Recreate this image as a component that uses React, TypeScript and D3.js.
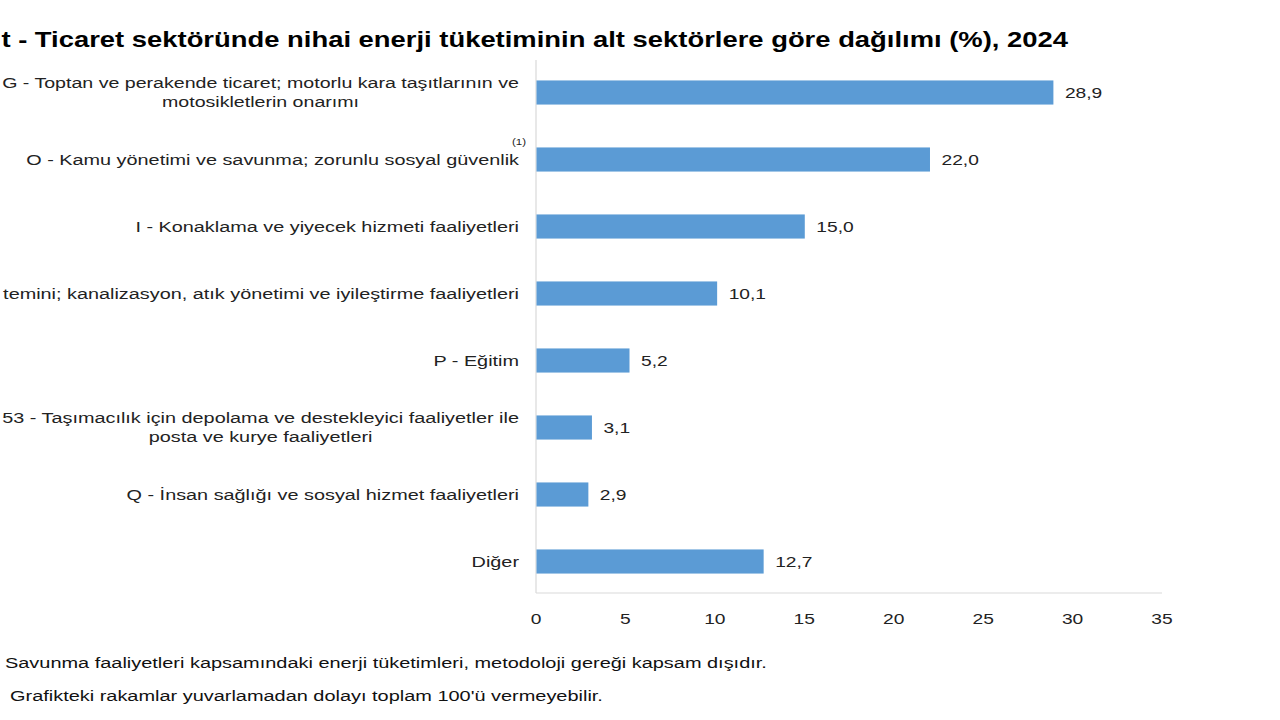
import React, { useEffect, useRef } from "react";
import * as d3 from "d3";

// Label lines per category, as much as the cropped source shows (wrapped like the source)
const categories: string[][] = [
    ["G - Toptan ve perakende ticaret; motorlu kara taşıtlarının ve", "motosikletlerin onarımı"],
    ["O - Kamu yönetimi ve savunma; zorunlu sosyal güvenlik"],
    ["I - Konaklama ve yiyecek hizmeti faaliyetleri"],
    ["temini; kanalizasyon, atık yönetimi ve iyileştirme faaliyetleri "],
    ["P - Eğitim"],
    ["53 - Taşımacılık için depolama ve destekleyici faaliyetler ile", "posta ve kurye faaliyetleri"],
    ["Q - İnsan sağlığı ve sosyal hizmet faaliyetleri"],
    ["Diğer"],
];
const values: number[] = [28.9, 22.0, 15.0, 10.1, 5.2, 3.1, 2.9, 12.7];
const xTicks: number[] = [0, 5, 10, 15, 20, 25, 30, 35];

const title = "t - Ticaret sektöründe nihai enerji tüketiminin alt sektörlere göre dağılımı (%), 2024";
const notes: string[] = [
    "Savunma faaliyetleri kapsamındaki enerji tüketimleri, metodoloji gereği kapsam dışıdır.",
    "Grafikteki rakamlar yuvarlamadan dolayı toplam 100'ü vermeyebilir.",
];

const FONT = "'Liberation Sans', Arial, sans-serif";
// the source picture is stretched sideways, so text is widened to match
const SX = 1.28;
const SX_NOTE = 1.33;

type G = d3.Selection<SVGGElement, unknown, null, undefined>;

const addText = (parent: G, x: number, y: number, str: string, anchor = "start", sx = SX) => {
    return parent.append("text")
        .attr("transform", `translate(${x},${y}) scale(${sx},1)`)
        .attr("dy", "0.35em")
        .attr("text-anchor", anchor)
        .text(str);
};

const naturalWidth = (parent: G, str: string): number => {
    const t = parent.append("text").text(str);
    const w = (t.node() as SVGTextElement).getComputedTextLength();
    t.remove();
    return w;
};

export default function App(): React.ReactElement {
    const svgRef = useRef<SVGSVGElement>(null);

    useEffect(() => {
        if (!svgRef.current) {
            return;
        }
        const svg = d3.select(svgRef.current);
        svg.selectAll("*").remove();
        const root = svg.append("g") as unknown as G;

        const x = d3.scaleLinear().domain([0, 35]).range([536, 1162]);
        const y = d3.scaleBand<number>()
            .domain(d3.range(categories.length))
            .range([59, 595])
            .paddingInner(0.64)
            .paddingOuter(0.32);

        // Title: spans from the left edge to x = 1068
        const titleRight = 1068;
        const titleG = root.append("g")
            .attr("font-family", FONT)
            .attr("font-weight", "bold")
            .attr("font-size", 22.5)
            .attr("fill", "#000");
        const titleSx = (titleRight - 1) / naturalWidth(titleG, title);
        addText(titleG, titleRight, 39, title, "end", titleSx);

        // Axes lines
        root.append("line")
            .attr("x1", x(0)).attr("x2", x(0))
            .attr("y1", 60).attr("y2", 593)
            .attr("stroke", "#d9d9d9").attr("stroke-width", 1.2);
        root.append("line")
            .attr("x1", x(0)).attr("x2", x(35))
            .attr("y1", 593).attr("y2", 593)
            .attr("stroke", "#d9d9d9").attr("stroke-width", 1.2);

        // Bars
        root.append("g")
            .selectAll("rect")
            .data(values)
            .join("rect")
            .attr("x", x(0) + 0.5)
            .attr("y", (_d, i) => y(i) as number)
            .attr("width", (d) => x(d) - x(0))
            .attr("height", y.bandwidth())
            .attr("fill", "#5b9bd5");

        // Value labels
        const valG = root.append("g")
            .attr("font-family", FONT)
            .attr("font-size", 15)
            .attr("fill", "#222");
        values.forEach((d, i) => {
            addText(valG, x(d) + 12, (y(i) as number) + y.bandwidth() / 2,
                d3.format(".1f")(d).replace(".", ","));
        });

        // Category labels
        const labelRight = 519;
        const lineH = 19;
        const labels = root.append("g")
            .attr("font-family", FONT)
            .attr("font-size", 15.5)
            .attr("fill", "#222");
        categories.forEach((lines, i) => {
            const cy = (y(i) as number) + y.bandwidth() / 2;
            const g = labels.append("g");
            const natural = d3.max(lines, (line) => naturalWidth(g, line)) ?? 0;
            const sx = Math.min(SX, (labelRight - 2) / natural);
            if (lines.length === 1) {
                addText(g, labelRight, cy, lines[0], "end", sx);
            } else {
                const maxW = natural * sx;
                lines.forEach((line, j) => {
                    addText(g, labelRight - maxW / 2, cy + (j - (lines.length - 1) / 2) * lineH, line, "middle", sx);
                });
            }
            if (i === 1) {
                g.append("text")
                    .attr("transform", `translate(${labelRight - 7},${cy - 15}) scale(${SX},1)`)
                    .attr("font-size", 9)
                    .text("(1)");
            }
        });

        // X tick labels
        const tickG = root.append("g")
            .attr("font-family", FONT)
            .attr("font-size", 15)
            .attr("fill", "#222");
        xTicks.forEach((d) => addText(tickG, x(d), 619, String(d), "middle"));

        // Footnotes
        const foot = root.append("g")
            .attr("font-family", FONT)
            .attr("font-size", 15)
            .attr("fill", "#111");
        addText(foot, 5, 663, notes[0], "start", SX_NOTE);
        addText(foot, 10, 696, notes[1], "start", SX_NOTE);
    }, []);

    return (
        <svg
            ref={svgRef}
            width={1280}
            height={720}
            style={{ position: "absolute", left: 0, top: 0, background: "#fff" }}
        />
    );
}
